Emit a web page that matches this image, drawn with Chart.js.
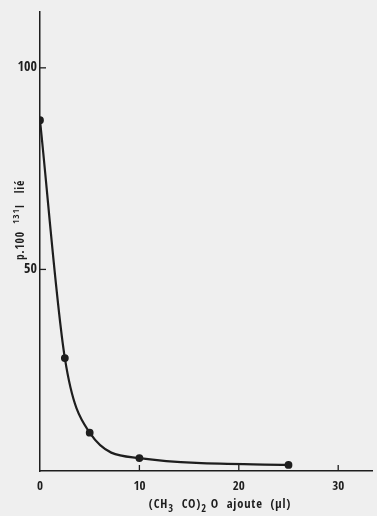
<!DOCTYPE html>
<html>
<head>
<meta charset="utf-8">
<script src="https://cdn.jsdelivr.net/npm/chart.js@4/dist/chart.umd.min.js"></script>
<style>
  html, body { margin: 0; padding: 0; background: #efefef; }
  #wrap { width: 377px; height: 516px; }
</style>
</head>
<body>
<div id="wrap"><canvas id="chart" width="377" height="516"></canvas></div>
<script>
// volume d'anhydride ajouté (µl) et % de 131I lié
const volumes = [0, 2.5, 5, 10, 25];
const pourcentLie = [87, 28, 9.5, 3.2, 1.5];
const xTicks = [0, 10, 20, 30];
const yTicks = [50, 100];

const fontName = "'Open Sans Condensed', 'DejaVu Sans Condensed', sans-serif";
const ink = "#1e1e1e";

// petits traits de graduation tournés vers l'intérieur + titres des axes
const axesExtras = {
    id: "axesExtras",
    afterDraw(chart) {
        const ctx = chart.ctx;
        const x = chart.scales.x, y = chart.scales.y;
        const area = chart.chartArea;
        ctx.save();
        ctx.strokeStyle = ink;
        ctx.lineWidth = 1.3;
        xTicks.forEach(v => {
            if (v === 0) return;
            const px = x.getPixelForValue(v);
            ctx.beginPath();
            ctx.moveTo(px, area.bottom);
            ctx.lineTo(px, area.bottom - 6);
            ctx.stroke();
        });
        yTicks.forEach(v => {
            const py = y.getPixelForValue(v);
            ctx.beginPath();
            ctx.moveTo(area.left, py);
            ctx.lineTo(area.left + 6, py);
            ctx.stroke();
        });

        ctx.fillStyle = ink;
        ctx.textBaseline = "alphabetic";

        // titre de l'axe x : (CH3 CO)2 O ajoute (µl)
        ctx.letterSpacing = "0.8px";
        const xParts = [
            { t: "(CH", s: 0 }, { t: "3", s: 4 }, { t: "  CO)", s: 0 },
            { t: "2", s: 4 }, { t: " O  ajoute  (µl)", s: 0 }
        ];
        drawParts(ctx, xParts, 220, 508, 12.5);

        // titre de l'axe y : p.100 131I lié
        ctx.letterSpacing = "0.8px";
        ctx.translate(24, 220);
        ctx.rotate(-Math.PI / 2);
        const yParts = [
            { t: "p.100  ", s: 0 }, { t: "131", s: -5 }, { t: "I   lié", s: 0 }
        ];
        drawParts(ctx, yParts, 0, 0, 11.5);
        ctx.restore();
    }
};

function drawParts(ctx, parts, cx, baseY, size) {
    const fonts = parts.map(p => "bold " + (p.s ? size - 2 : size) + "px " + fontName);
    let total = 0;
    parts.forEach((p, i) => { ctx.font = fonts[i]; total += ctx.measureText(p.t).width; });
    let px = cx - total / 2;
    parts.forEach((p, i) => {
        ctx.font = fonts[i];
        ctx.textAlign = "left";
        ctx.fillText(p.t, px, baseY + p.s);
        px += ctx.measureText(p.t).width;
    });
}

new Chart(document.getElementById("chart"), {
    type: "line",
    data: {
        datasets: [{
            data: volumes.map((v, i) => ({ x: v, y: pourcentLie[i] })),
            borderColor: ink,
            backgroundColor: ink,
            borderWidth: 2.2,
            pointRadius: 2.8,
            pointHoverRadius: 2.8,
            cubicInterpolationMode: "monotone",
            fill: false
        }]
    },
    options: {
        responsive: false,
        animation: false,
        layout: { padding: { top: 8, right: 0, left: 0, bottom: 0 } },
        plugins: {
            legend: { display: false },
            tooltip: { enabled: false }
        },
        scales: {
            x: {
                type: "linear",
                min: 0,
                max: 33.4,
                afterBuildTicks: s => { s.ticks = xTicks.map(v => ({ value: v })); },
                afterFit: s => { s.height = 45; },
                grid: { display: false, drawTicks: false },
                border: { display: true, color: ink, width: 1.5 },
                ticks: {
                    color: ink,
                    padding: 8,
                    maxRotation: 0,
                    font: { family: fontName, size: 13, weight: "bold" }
                }
            },
            y: {
                type: "linear",
                min: 0,
                max: 114,
                afterBuildTicks: s => { s.ticks = yTicks.map(v => ({ value: v })); },
                afterFit: s => { s.width = 40; },
                grid: { display: false, drawTicks: false },
                border: { display: true, color: ink, width: 1.5 },
                ticks: {
                    color: ink,
                    padding: 3,
                    font: { family: fontName, size: 14, weight: "bold" }
                }
            }
        }
    },
    plugins: [axesExtras]
});
</script>
</body>
</html>
